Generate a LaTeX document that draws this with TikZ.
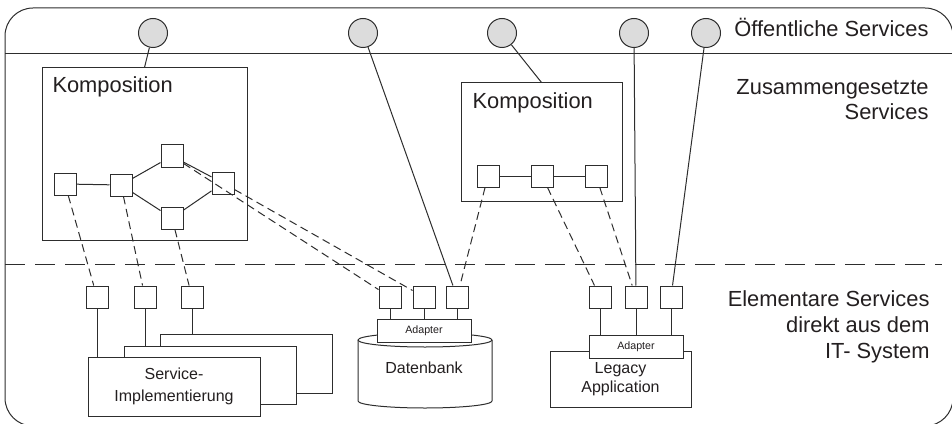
\documentclass[tikz,border=0pt]{standalone}
\usepackage{fontspec}
\setmainfont{Liberation Sans}

\definecolor{lineclr}{RGB}{45,45,45}
\definecolor{svcfill}{RGB}{220,220,220}
\definecolor{txtclr}{RGB}{35,31,32}

\tikzset{every picture/.style={line width=0.75pt}}
\tikzset{
  pubsvc/.style={circle,draw=lineclr,fill=svcfill,minimum size=21.75pt,inner sep=0pt},
  port/.style={rectangle,draw=lineclr,fill=white,minimum size=16.5pt,inner sep=0pt},
  plainbox/.style={rectangle,draw=lineclr,fill=white,inner sep=0pt},
  wire/.style={draw=lineclr},
  maplink/.style={draw=lineclr,dash pattern=on 6pt off 3.5pt},
  bigtext/.style={font=\fontsize{16.4}{18.75}\selectfont,text=txtclr,inner sep=0pt},
  midtext/.style={font=\fontsize{12}{16}\selectfont,text=txtclr,align=center,inner sep=0pt},
  smalltext/.style={font=\fontsize{8}{9}\selectfont,text=txtclr,inner sep=0pt},
}

\begin{document}
\begin{tikzpicture}[x=0.75pt,y=0.75pt,yscale=-1,xscale=1]
\useasboundingbox (0,0) rectangle (952,424);

% Frame
\draw[wire,rounded corners=21pt] (5,8) rectangle (953,426);
\draw[wire] (5,54) -- (953,54);
\draw[lineclr,dash pattern=on 15pt off 7.5pt] (5,264) -- (942,264);

% Layer labels (base = last line)
\node[bigtext,anchor=base east] (lblpub) at (929,37) {Öffentliche Services};
\node[bigtext,anchor=base east,align=right] (lblcomp) at (929,120) {Zusammengesetzte\\Services};
\node[bigtext,anchor=base east,align=right,font=\fontsize{16.4}{19.5}\selectfont] (lblelem) at (930,358) {Elementare Services\\direkt aus dem\\IT- System};

% Public services
\node[pubsvc] (pub1) at (153,33) {};
\node[pubsvc] (pub2) at (363,33) {};
\node[pubsvc] (pub3) at (502,33) {};
\node[pubsvc] (pub4) at (634,33) {};
\node[pubsvc] (pub5) at (706,33) {};

% Composition 1
\node[plainbox,minimum width=153.75pt,minimum height=129pt] (komp1) at (144.5,154) {};
\node[bigtext,anchor=base west] (komp1lbl) at (52,93) {Komposition};
\node[port] (ka) at (65,184) {};
\node[port] (kb) at (121,185) {};
\node[port] (kc) at (172,156) {};
\node[port] (kd) at (172,218) {};
\node[port] (ke) at (223,183) {};

% Composition 2
\node[plainbox,minimum width=120.75pt,minimum height=88.5pt] (komp2) at (541.5,142) {};
\node[bigtext,anchor=base west] (komp2lbl) at (472,109) {Komposition};
\node[port] (ra) at (488,176) {};
\node[port] (rb) at (542,176) {};
\node[port] (rc) at (596,176) {};

% Service implementation
\node[plainbox,minimum width=129pt,minimum height=44.25pt] (implback) at (246,363.5) {};
\node[plainbox,minimum width=129pt,minimum height=43.5pt] (implmid) at (210,375) {};
\node[plainbox,midtext,minimum width=129pt,minimum height=44.25pt] (implfront) at (174,386.5) {Service-\\Implementierung};
\node[port] (sa) at (97,297) {};
\node[port] (sb) at (145,297) {};
\node[port] (sc) at (192,297) {};

% Database
\draw[wire,fill=white] (358,340) -- (358,401) arc[start angle=180,end angle=0,x radius=67,y radius=7] -- (492,340);
\draw[wire] (425,340) ellipse [x radius=67,y radius=7];
\node[midtext] (dbname) at (424,368) {Datenbank};
\node[plainbox,smalltext,minimum width=70.5pt,minimum height=17.25pt] (dbadapt) at (424,330.5) {Adapter};
\node[port] (da) at (390,297) {};
\node[port] (db) at (424,297) {};
\node[port] (dc) at (457,297) {};

% Legacy application
\node[plainbox,midtext,font=\fontsize{12}{14.25}\selectfont,minimum width=105.75pt,minimum height=42pt] (legacy) at (620.5,379) {Legacy\\Application};
\node[plainbox,smalltext,minimum width=70.5pt,minimum height=17.25pt] (ladapt) at (636,346.5) {Adapter};
\node[port] (la) at (600,297) {};
\node[port] (lb) at (636,297) {};
\node[port] (lc) at (671,297) {};

% Connection
\draw[wire] (pub1) -- (komp1.north);
\draw[wire] (pub2) -- (dc);
\draw[wire] (pub3) -- (komp2.north);
\draw[wire] (pub4) -- (lb);
\draw[wire] (pub5) -- (lc);
% Connection
\draw[wire] (ka) -- (kb);
\draw[wire] (kb) -- (kc);
\draw[wire] (kb) -- (kd);
\draw[wire] (kc) -- (ke);
\draw[wire] (kd) -- (ke);
\draw[wire] (ra) -- (rb);
\draw[wire] (rb) -- (rc);
% Connection
\draw[maplink] (ka) -- (sa);
\draw[maplink] (kb) -- (sb);
\draw[maplink] (kd) -- (sc);
\draw[maplink] (kc) -- (da);
\draw[maplink] (ke) -- (db);
\draw[maplink] (ra) -- (dc);
\draw[maplink] (rb) -- (la);
\draw[maplink] (rc) -- (lb);
% Connection
\draw[wire] (sa) -- (sa |- implfront.north);
\draw[wire] (sb) -- (sb |- implmid.north);
\draw[wire] (sc) -- (sc |- implback.north);
\foreach \p in {da,db,dc}
  \draw[wire] (\p) -- (\p |- dbadapt.north);
\foreach \p in {la,lb,lc}
  \draw[wire] (\p) -- (\p |- ladapt.north);

\end{tikzpicture}
\end{document}
